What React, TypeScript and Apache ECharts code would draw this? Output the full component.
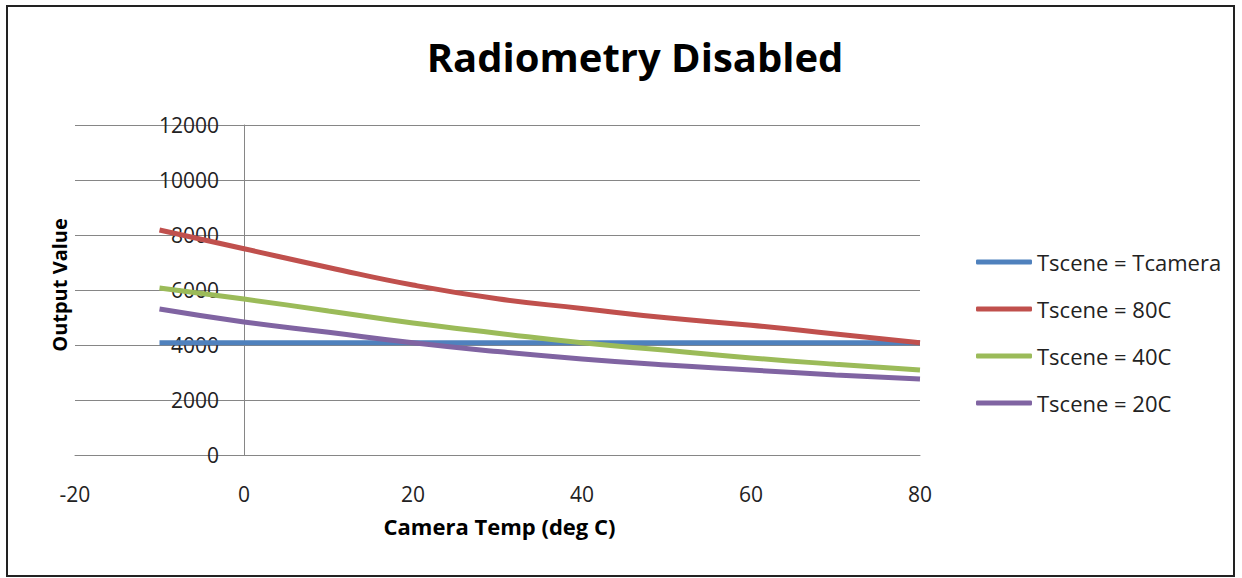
import React, { useEffect, useRef } from "react";
import * as echarts from "echarts";

const temps = [-10, 0, 10, 20, 30, 40, 50, 60, 70, 80];
const seriesNames = ["Tscene = Tcamera", "Tscene = 80C", "Tscene = 40C", "Tscene = 20C"];
const tsceneTcamera = [4080, 4080, 4080, 4080, 4080, 4080, 4080, 4080, 4080, 4080];
const tscene80 = [8180, 7500, 6820, 6180, 5680, 5330, 4990, 4720, 4400, 4080];
const tscene40 = [6070, 5670, 5240, 4800, 4430, 4080, 3810, 3530, 3300, 3090];
const tscene20 = [5310, 4840, 4460, 4080, 3760, 3490, 3270, 3090, 2910, 2760];
const colors = ["#4F81BD", "#C0504D", "#9BBB59", "#8064A2"];

const FONT = "'Open Sans', sans-serif";

export default function App() {
  const ref = useRef<HTMLDivElement>(null);
  useEffect(() => {
    document.body.style.margin = "0";
    const chart = echarts.init(ref.current!, null, { renderer: "svg" });
    const all = [tsceneTcamera, tscene80, tscene40, tscene20];
    chart.setOption({
      animation: false,
      backgroundColor: "#fff",
      title: {
        text: "Radiometry Disabled",
        left: 630,
        top: 31,
        textAlign: "center",
        textStyle: { fontFamily: FONT, fontSize: 40, fontWeight: "bold", color: "#000" },
      },
      graphic: [
        {
          type: "rect",
          shape: { x: 7, y: 6, width: 1227, height: 570 },
          style: { fill: "none", stroke: "#222", lineWidth: 2 },
          silent: true,
        },
      ],
      legend: {
        orient: "vertical",
        left: 971,
        top: 246,
        itemWidth: 56,
        itemHeight: 5,
        itemGap: 25,
        icon: "roundRect",
        textStyle: { fontFamily: FONT, fontSize: 22, color: "#222", lineHeight: 20 },
        data: seriesNames,
      },
      grid: {
        left: 75,
        right: 322,
        top: 125,
        bottom: 123,
        containLabel: false,
        outerBoundsMode: "none",
      },
      xAxis: {
        type: "value",
        min: -20,
        max: 80,
        interval: 20,
        name: "Camera Temp (deg C)",
        nameLocation: "middle",
        nameGap: 60,
        nameTextStyle: { fontFamily: FONT, fontSize: 22, fontWeight: "bold", color: "#000", padding: [0, 0, 0, 4] },
        axisLine: { show: true, onZero: false, lineStyle: { color: "#868686", width: 1 } },
        axisTick: { show: false },
        splitLine: { show: false },
        axisLabel: { fontFamily: FONT, fontSize: 21, color: "#222", margin: 28 },
      },
      yAxis: {
        type: "value",
        min: 0,
        max: 12000,
        interval: 2000,
        offset: -169,
        name: "Output Value",
        nameLocation: "middle",
        nameGap: 175,
        nameTextStyle: { fontFamily: FONT, fontSize: 20, fontWeight: "bold", color: "#000", padding: [0, 0, 0, 10] },
        axisLine: { show: true, onZero: false, lineStyle: { color: "#868686", width: 1 } },
        axisTick: { show: false },
        splitLine: { show: true, lineStyle: { color: "#868686", width: 1 } },
        axisLabel: {
          fontFamily: FONT,
          fontSize: 21,
          color: "#222",
          margin: 25,
          formatter: (v: number) => String(v),
        },
      },
      series: seriesNames.map((name, i) => ({
        name,
        type: "line",
        smooth: true,
        showSymbol: false,
        symbol: "none",
        data: temps.map((t, j) => [t, all[i][j]]),
        lineStyle: { color: colors[i], width: 5 },
        itemStyle: { color: colors[i] },
      })),
    });
    return () => chart.dispose();
  }, []);
  return <div ref={ref} style={{ width: 1242, height: 578 }} />;
}
